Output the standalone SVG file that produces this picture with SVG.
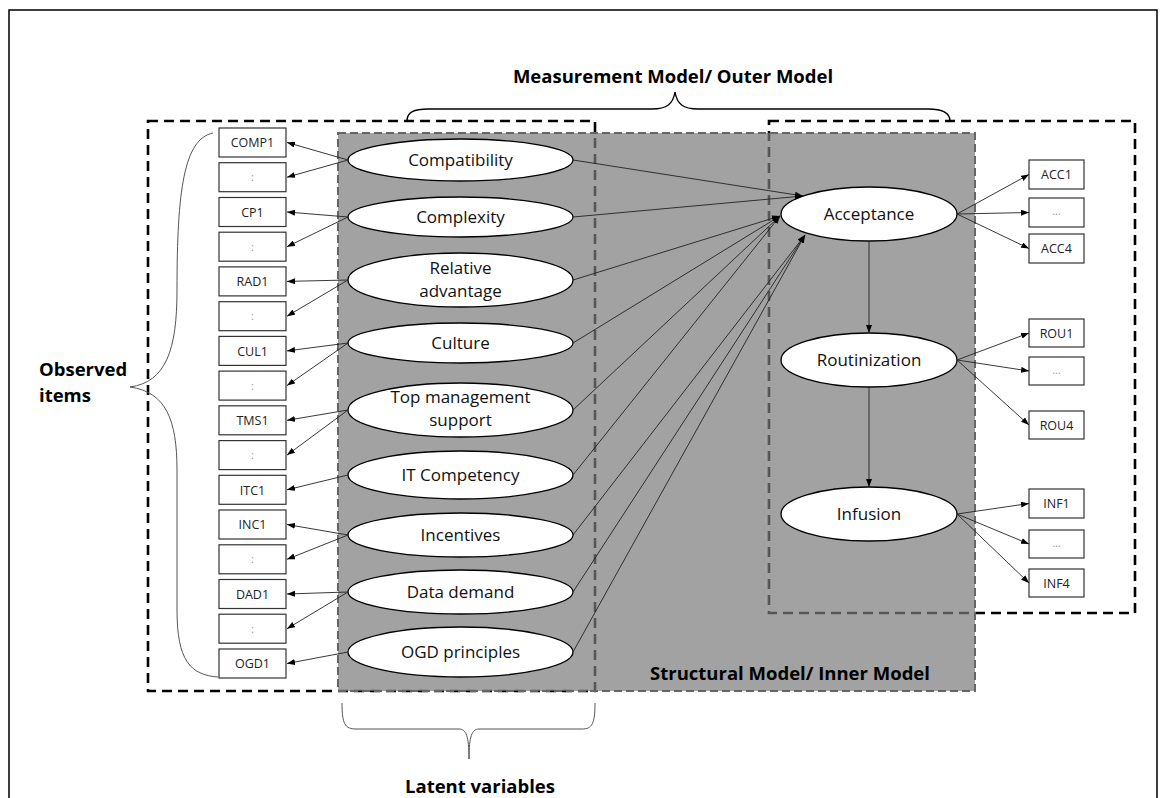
<svg xmlns="http://www.w3.org/2000/svg" width="1163" height="798" viewBox="0 0 1163 798">
  <defs>
    <marker id="ah" viewBox="0 0 8 6" refX="8" refY="3" markerWidth="8" markerHeight="6" markerUnits="userSpaceOnUse" orient="auto">
      <path d="M0,0 L8,3 L0,6 z" fill="#000"/>
    </marker>
    <style>
      .frame{fill:none;stroke:#000;stroke-width:1.5}
      .dash{fill:none;stroke:#000;stroke-width:2.6;stroke-dasharray:10 6}
      .inner{fill:#7a7a7a;fill-opacity:.7;stroke:#666;stroke-width:2;stroke-dasharray:8 4}
      .brace{fill:none;stroke:#000;stroke-width:1.4}
      .brace2{fill:none;stroke:#555;stroke-width:1}
      .head{font-family:"Open Sans","Liberation Sans",sans-serif;font-weight:bold;font-size:18.5px;fill:#000}
      .lv ellipse{fill:#fff;stroke:#000;stroke-width:1.3}
      .lv text{font-family:"Open Sans","Liberation Sans",sans-serif;font-size:17px;fill:#111;text-anchor:middle}
      .item rect{fill:#fff;stroke:#333;stroke-width:1.2}
      .item text{font-family:"Open Sans","Liberation Sans",sans-serif;font-size:12.5px;fill:#222;text-anchor:middle}
      .item text.dots{fill:#999;font-size:11px}
      #connectors line{stroke:#222;stroke-width:0.9;marker-end:url(#ah)}
    </style>
  </defs>

  <!-- page frame -->
  <path class="frame" d="M9,800 V10 H1157 V800"/>

  <!-- measurement model boxes -->
  <rect class="dash" x="148" y="121" width="447" height="570"/>
  <rect class="dash" x="769" y="121" width="366" height="492"/>

  <!-- structural model area -->
  <rect class="inner" x="338" y="133" width="637" height="558"/>

  <!-- braces -->
  <path class="brace" d="M407,121 C407,112 414,109 428,109 L652,109 C667,109 673,104 675,92 C677,104 683,109 698,109 L928,109 C942,109 950,112 950,121"/>
  <path class="brace2" d="M213,133 C184,139 177,190 177,290 C177,350 166,382 130,387 C166,392 177,420 177,470 L177,610 C177,660 190,675 218,677"/>
  <path class="brace2" d="M342,703 C342,724 345,729 356,729 L459,729 C466,729 469,736 469,759 C469,736 472,729 479,729 L582,729 C592,729 595,724 595,703"/>

  <!-- headings -->
  <text class="head" x="673" y="83" text-anchor="middle">Measurement Model/ Outer Model</text>
  <text class="head" x="39" y="376">Observed</text>
  <text class="head" x="39" y="402">items</text>
  <text class="head" x="480" y="793" text-anchor="middle">Latent variables</text>
  <text class="head" x="790" y="680" text-anchor="middle">Structural Model/ Inner Model</text>

  <!-- latent variables -->
  <g id="compatibility" class="lv"><ellipse cx="460.5" cy="160" rx="112.5" ry="21"/><text x="460.5" y="166">Compatibility</text></g>
  <g id="complexity" class="lv"><ellipse cx="460.5" cy="217" rx="112.5" ry="20"/><text x="460.5" y="223">Complexity</text></g>
  <g id="relative-advantage" class="lv"><ellipse cx="460.5" cy="280" rx="112.5" ry="27"/><text x="460.5" y="274">Relative</text><text x="460.5" y="297">advantage</text></g>
  <g id="culture" class="lv"><ellipse cx="460.5" cy="343" rx="112.5" ry="20"/><text x="460.5" y="349">Culture</text></g>
  <g id="top-management-support" class="lv"><ellipse cx="460.5" cy="410" rx="112.5" ry="27"/><text x="460.5" y="403">Top management</text><text x="460.5" y="426">support</text></g>
  <g id="it-competency" class="lv"><ellipse cx="460.5" cy="475" rx="112.5" ry="24"/><text x="460.5" y="481">IT Competency</text></g>
  <g id="incentives" class="lv"><ellipse cx="460.5" cy="535" rx="112.5" ry="22"/><text x="460.5" y="541">Incentives</text></g>
  <g id="data-demand" class="lv"><ellipse cx="460.5" cy="592" rx="112.5" ry="22"/><text x="460.5" y="598">Data demand</text></g>
  <g id="ogd-principles" class="lv"><ellipse cx="460.5" cy="652" rx="112.5" ry="25"/><text x="460.5" y="658">OGD principles</text></g>

  <g id="acceptance" class="lv"><ellipse cx="869" cy="214" rx="88" ry="27"/><text x="869" y="220">Acceptance</text></g>
  <g id="routinization" class="lv"><ellipse cx="869" cy="360" rx="88" ry="27"/><text x="869" y="366">Routinization</text></g>
  <g id="infusion" class="lv"><ellipse cx="869" cy="514" rx="88" ry="27"/><text x="869" y="520">Infusion</text></g>

  <!-- observed items, left -->
  <g id="comp1" class="item"><rect x="219" y="128" width="67" height="29"/><text x="252.5" y="147">COMP1</text></g>
  <g id="comp-n" class="item"><rect x="219" y="162.7" width="67" height="29"/><text class="dots" x="252.5" y="181">:</text></g>
  <g id="cp1" class="item"><rect x="219" y="197.5" width="67" height="29"/><text x="252.5" y="216.5">CP1</text></g>
  <g id="cp-n" class="item"><rect x="219" y="232.2" width="67" height="29"/><text class="dots" x="252.5" y="250.5">:</text></g>
  <g id="rad1" class="item"><rect x="219" y="266.9" width="67" height="29"/><text x="252.5" y="286">RAD1</text></g>
  <g id="rad-n" class="item"><rect x="219" y="301.7" width="67" height="29"/><text class="dots" x="252.5" y="320">:</text></g>
  <g id="cul1" class="item"><rect x="219" y="336.4" width="67" height="29"/><text x="252.5" y="355.5">CUL1</text></g>
  <g id="cul-n" class="item"><rect x="219" y="371.1" width="67" height="29"/><text class="dots" x="252.5" y="389.5">:</text></g>
  <g id="tms1" class="item"><rect x="219" y="405.8" width="67" height="29"/><text x="252.5" y="425">TMS1</text></g>
  <g id="tms-n" class="item"><rect x="219" y="440.6" width="67" height="29"/><text class="dots" x="252.5" y="459">:</text></g>
  <g id="itc1" class="item"><rect x="219" y="475.3" width="67" height="29"/><text x="252.5" y="494.5">ITC1</text></g>
  <g id="inc1" class="item"><rect x="219" y="510" width="67" height="29"/><text x="252.5" y="529">INC1</text></g>
  <g id="inc-n" class="item"><rect x="219" y="544.8" width="67" height="29"/><text class="dots" x="252.5" y="563">:</text></g>
  <g id="dad1" class="item"><rect x="219" y="579.5" width="67" height="29"/><text x="252.5" y="598.5">DAD1</text></g>
  <g id="dad-n" class="item"><rect x="219" y="614.2" width="67" height="29"/><text class="dots" x="252.5" y="633">:</text></g>
  <g id="ogd1" class="item"><rect x="219" y="649" width="67" height="29"/><text x="252.5" y="668">OGD1</text></g>

  <!-- observed items, right -->
  <g id="acc1" class="item"><rect x="1029" y="160" width="55" height="29"/><text x="1056.5" y="179">ACC1</text></g>
  <g id="acc-n" class="item"><rect x="1029" y="198" width="55" height="29"/><text class="dots" x="1056.5" y="215">...</text></g>
  <g id="acc4" class="item"><rect x="1029" y="234" width="55" height="29"/><text x="1056.5" y="253">ACC4</text></g>
  <g id="rou1" class="item"><rect x="1029" y="319" width="55" height="28"/><text x="1056.5" y="337.5">ROU1</text></g>
  <g id="rou-n" class="item"><rect x="1029" y="357" width="55" height="28"/><text class="dots" x="1056.5" y="374">...</text></g>
  <g id="rou4" class="item"><rect x="1029" y="411" width="55" height="28"/><text x="1056.5" y="429.5">ROU4</text></g>
  <g id="inf1" class="item"><rect x="1029" y="489" width="55" height="29"/><text x="1056.5" y="508">INF1</text></g>
  <g id="inf-n" class="item"><rect x="1029" y="530" width="55" height="28"/><text class="dots" x="1056.5" y="547">...</text></g>
  <g id="inf4" class="item"><rect x="1029" y="569" width="55" height="28"/><text x="1056.5" y="587.5">INF4</text></g>

  <g id="connectors">
    <!-- latent variable to indicator (left) -->
    <line x1="348" y1="160" x2="287" y2="142.5"/>
    <line x1="348" y1="160" x2="287" y2="177.2"/>
    <line x1="348" y1="217" x2="287" y2="212"/>
    <line x1="348" y1="217" x2="287" y2="246.7"/>
    <line x1="348" y1="280" x2="287" y2="281.4"/>
    <line x1="348" y1="280" x2="287" y2="316.2"/>
    <line x1="348" y1="343" x2="287" y2="350.9"/>
    <line x1="348" y1="343" x2="287" y2="385.6"/>
    <line x1="348" y1="410" x2="287" y2="420.3"/>
    <line x1="348" y1="410" x2="287" y2="455.1"/>
    <line x1="348" y1="475" x2="287" y2="489.8"/>
    <line x1="348" y1="535" x2="287" y2="524.5"/>
    <line x1="348" y1="535" x2="287" y2="559.3"/>
    <line x1="348" y1="592" x2="287" y2="594"/>
    <line x1="348" y1="592" x2="287" y2="628.7"/>
    <line x1="348" y1="652" x2="287" y2="663.5"/>
    <!-- structural paths to acceptance -->
    <line x1="573" y1="160" x2="803" y2="196"/>
    <line x1="573" y1="217" x2="803" y2="196"/>
    <line x1="573" y1="280" x2="780" y2="216"/>
    <line x1="573" y1="343" x2="780" y2="216"/>
    <line x1="573" y1="410" x2="780" y2="216"/>
    <line x1="573" y1="475" x2="780" y2="216"/>
    <line x1="573" y1="535" x2="805" y2="235"/>
    <line x1="573" y1="592" x2="805" y2="235"/>
    <line x1="573" y1="652" x2="805" y2="235"/>
    <!-- inner chain -->
    <line x1="869" y1="241" x2="869" y2="333"/>
    <line x1="869" y1="387" x2="869" y2="487"/>
    <!-- latent variable to indicator (right) -->
    <line x1="957" y1="214" x2="1029" y2="174.5"/>
    <line x1="957" y1="214" x2="1029" y2="212.5"/>
    <line x1="957" y1="214" x2="1029" y2="248.5"/>
    <line x1="957" y1="360" x2="1029" y2="333"/>
    <line x1="957" y1="360" x2="1029" y2="371"/>
    <line x1="957" y1="360" x2="1029" y2="425"/>
    <line x1="957" y1="514" x2="1029" y2="503.5"/>
    <line x1="957" y1="514" x2="1029" y2="544"/>
    <line x1="957" y1="514" x2="1029" y2="583"/>
  </g>
</svg>
